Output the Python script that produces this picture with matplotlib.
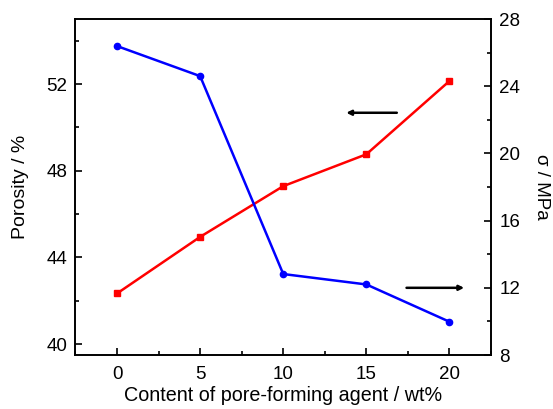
import matplotlib
matplotlib.use("Agg")
import matplotlib.pyplot as plt
from matplotlib.ticker import MultipleLocator

plt.rcParams['font.family'] = ['Liberation Sans', 'DejaVu Sans']

# data
content = [0, 5, 10, 15, 20]
porosity = [42.34, 44.95, 47.29, 48.76, 52.14]
strength = [26.39, 24.6, 12.82, 12.2, 9.98]

fig = plt.figure(figsize=(5.53, 4.09), dpi=100)
ax = fig.add_axes([0.1365, 0.132, 0.7514, 0.8215])
ax2 = ax.twinx()

ax.plot(content, porosity, color='#ff0000', lw=1.8, marker='s', ms=4.5)
ax2.plot(content, strength, color='#0000ff', lw=1.8, marker='o', ms=4.5)

ax.set_xlim(-2.5, 22.5)
ax.set_ylim(39.5, 55)
ax2.set_ylim(8, 28)

ax.xaxis.set_major_locator(MultipleLocator(5))
ax.xaxis.set_minor_locator(MultipleLocator(2.5))
ax.yaxis.set_major_locator(MultipleLocator(4))
ax.yaxis.set_minor_locator(MultipleLocator(2))
ax2.yaxis.set_major_locator(MultipleLocator(4))
ax2.yaxis.set_minor_locator(MultipleLocator(2))

for a in (ax, ax2):
    a.tick_params(which='both', direction='in', labelsize=13.5, width=1.2)
    a.tick_params(which='major', length=5)
    a.tick_params(which='minor', length=3)
    a.tick_params(axis='y', pad=6)
    for s in a.spines.values():
        s.set_linewidth(1.2)
ax.tick_params(axis='x', pad=8)

ax.set_xlabel('Content of pore-forming agent / wt%', fontsize=14.2, labelpad=2)
ax.set_ylabel('Porosity / %', fontsize=14, labelpad=12)
ax2.set_ylabel('σ / MPa', fontsize=13.5, rotation=270, labelpad=21)

# arrows pointing to the matching axis
ax.annotate('', xy=(0.645, 0.721), xytext=(0.78, 0.721), xycoords='axes fraction',
            arrowprops=dict(arrowstyle='-|>', color='black', lw=1.8, mutation_scale=7))
ax.annotate('', xy=(0.942, 0.2), xytext=(0.79, 0.2), xycoords='axes fraction',
            arrowprops=dict(arrowstyle='-|>', color='black', lw=1.8, mutation_scale=7))

fig.savefig('out.png', dpi=100)
